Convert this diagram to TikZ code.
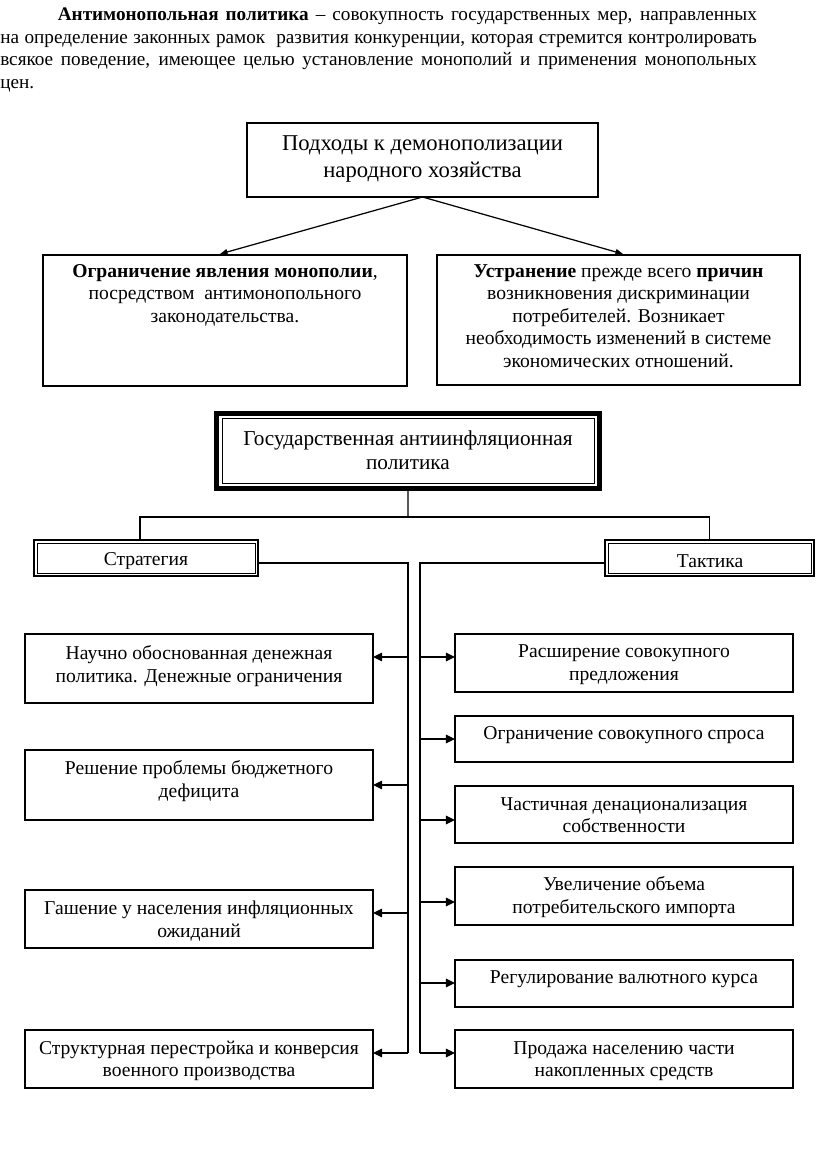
\documentclass[tikz,border=0pt]{standalone}
\usepackage{fontspec}
\setmainfont{Liberation Serif}
\usetikzlibrary{arrows.meta}
\newcommand\pxu{0.7295pt}
\newcommand\rbox[5]{\node[box,minimum width={(#4-#2)*\pxu},minimum height={(#5-#3)*\pxu}] (#1) at (#2,#3) {};}
\begin{document}
\begin{tikzpicture}[x=0.7295pt,y=-0.7295pt,
  box/.style={draw,line width=1pt,inner sep=0,outer sep=0pt,anchor=north west},
  txt/.style={align=center,inner sep=0,font=\fontsize{14.3}{16.4}\selectfont},
  bigtxt/.style={align=center,inner sep=0,font=\fontsize{16.5}{19.5}\selectfont},
  gostxt/.style={align=center,inner sep=0,font=\fontsize{15.5}{17.5}\selectfont},
  conn/.style={line width=0.9pt},
  arr/.style={conn,-{Triangle[length=6.6pt,width=6.2pt]}},
  arrt/.style={conn,-{Triangle[length=5.5pt,width=4.2pt]}}]
\useasboundingbox (0,0) rectangle (816,1155);

% paragraph
\node[anchor=north west,inner sep=0,text width=552pt,align=justify,
  font=\fontsize{14}{16.4}\selectfont] (par) at (0,8)
  {\hspace*{42pt}\textbf{Антимонопольная политика} – совокупность государственных мер, направленных\linebreak
  на определение законных рамок\ \ развития конкуренции, которая стремится контролировать\linebreak
  всякое поведение, имеющее целью установление монополий и применения монопольных\linebreak
  цен.};

% top part
\rbox{top}{247}{123}{598}{197}
\node[bigtxt] (topt) at (422.5,159) {Подходы к демонополизации\\народного хозяйства};
\rbox{ogr}{43}{255}{407}{386}
\node[txt,anchor=north] (ogrt) at (225,264) {\textbf{Ограничение явления монополии},\\посредством\ \ антимонопольного\\законодательства.};
\rbox{ust}{437}{255}{800}{385}
\node[txt,anchor=north] (ustt) at (618.5,264) {\textbf{Устранение} прежде всего \textbf{причин}\\возникновения дискриминации\\потребителей. Возникает\\необходимость изменений в системе\\экономических отношений.};
\coordinate (ta) at (220,254);
\coordinate (tb) at (623,254);
\draw[arrt] (top.south) -- (ta);
\draw[arrt] (top.south) -- (tb);

% main policy box
\node[draw,line width=3.6pt,inner sep=0,outer sep=0pt,anchor=north west,minimum width={383*\pxu},minimum height={75*\pxu}] (gos) at (216.5,413.5) {};
\draw[line width=0.7pt] (222,418) rectangle (594,483);
\node[gostxt] (gost) at (408,450) {Государственная антиинфляционная\\политика};

% strategy / tactics
\node[draw,line width=1.4pt,inner sep=0,outer sep=0pt,anchor=north west,minimum width={224*\pxu},minimum height={36*\pxu}] (strat) at (34,540) {};
\draw[line width=0.6pt] (37,543) rectangle (255,573);
\begin{scope}
\clip (37,543) rectangle (255,568);
\node[txt] (stratt) at (146,561) {Стратегия};
\end{scope}
\node[draw,line width=1.4pt,inner sep=0,outer sep=0pt,anchor=north west,minimum width={209*\pxu},minimum height={36*\pxu}] (takt) at (605,540) {};
\draw[line width=0.6pt] (608,543) rectangle (811,573);
\node[txt] (taktt) at (710,561) {Тактика};

\coordinate (hub) at (408,517);
\draw[conn] (gos.south) -- (hub);
\draw[conn] ([xshift=-4.38pt]strat.north) |- (hub) -| (takt.north);

% left column
\rbox{s1}{25}{634}{373}{703}
\node[txt] (s1t) at (199,666) {Научно обоснованная денежная\\политика. Денежные ограничения};
\rbox{s2}{25}{750}{373}{820}
\node[txt] (s2t) at (199,781) {Решение проблемы бюджетного\\дефицита};
\rbox{s3}{25}{890}{373}{948}
\node[txt] (s3t) at (199,921) {Гашение у населения инфляционных\\ожиданий};
\rbox{s4}{25}{1030}{373}{1088}
\node[txt] (s4t) at (199,1061) {Структурная перестройка и конверсия\\военного производства};

% right column
\rbox{t1}{455}{634}{793}{692}
\node[txt] (t1t) at (624,664.5) {Расширение совокупного\\предложения};
\rbox{t2}{455}{716}{793}{762}
\node[txt] (t2t) at (624,735) {Ограничение совокупного спроса};
\rbox{t3}{455}{786}{793}{843}
\node[txt] (t3t) at (624,815) {Частичная денационализация\\собственности};
\rbox{t4}{455}{867}{793}{925}
\node[txt] (t4t) at (624,897) {Увеличение объема\\потребительского импорта};
\rbox{t5}{455}{960}{793}{1007}
\node[txt] (t5t) at (624,979) {Регулирование валютного курса};
\rbox{t6}{455}{1030}{793}{1088}
\node[txt] (t6t) at (624,1061) {Продажа населению части\\накопленных средств};

% spines
\coordinate (lbot) at (408,1053);
\coordinate (rbot) at (420,1053);
\draw[conn] ([yshift=-3.65pt]strat.east) -| (lbot);
\draw[conn] ([yshift=-3.65pt]takt.west) -| (rbot);

\coordinate (l1) at (408,657);
\coordinate (l2) at (408,785);
\coordinate (l3) at (408,913);
\coordinate (l4) at (408,1053);
\draw[arr] (l1) -- (l1 -| s1.east);
\draw[arr] (l2) -- (l2 -| s2.east);
\draw[arr] (l3) -- (l3 -| s3.east);
\draw[arr] (l4) -- (l4 -| s4.east);

\coordinate (r1) at (420,657);
\coordinate (r2) at (420,739);
\coordinate (r3) at (420,820);
\coordinate (r4) at (420,902);
\coordinate (r5) at (420,983);
\coordinate (r6) at (420,1053);
\draw[arr] (r1) -- (r1 -| t1.west);
\draw[arr] (r2) -- (r2 -| t2.west);
\draw[arr] (r3) -- (r3 -| t3.west);
\draw[arr] (r4) -- (r4 -| t4.west);
\draw[arr] (r5) -- (r5 -| t5.west);
\draw[arr] (r6) -- (r6 -| t6.west);
\end{tikzpicture}
\end{document}
